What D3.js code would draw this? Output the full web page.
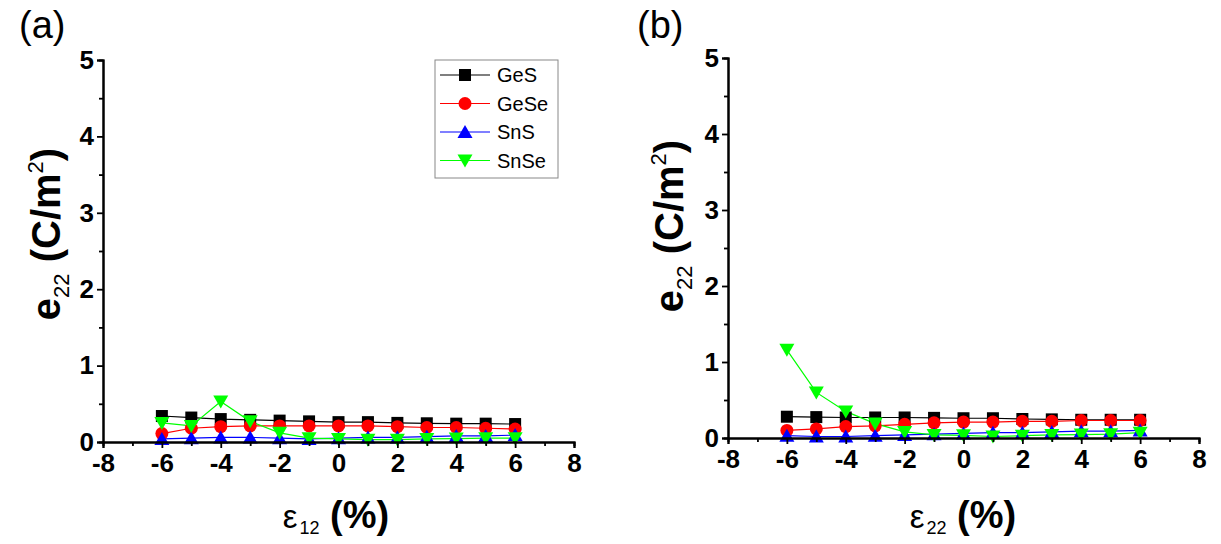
<!DOCTYPE html>
<html>
<head>
<meta charset="utf-8">
<script src="https://cdn.jsdelivr.net/npm/d3@7"></script>
<style>
  body{margin:0;background:#fff;}
  text{font-family:"Liberation Sans",Arial,sans-serif;}
</style>
</head>
<body>
<div id="chart"></div>
<script>
// strain values (%)
const strain = [-6,-5,-4,-3,-2,-1,0,1,2,3,4,5,6];

// panel (a): e22 vs eps12
const gesA  = [0.34,0.32,0.30,0.29,0.28,0.27,0.26,0.26,0.25,0.245,0.24,0.24,0.235];
const geseA = [0.11,0.18,0.20,0.21,0.21,0.21,0.21,0.21,0.20,0.19,0.19,0.18,0.17];
const snsA  = [0.04,0.05,0.06,0.06,0.05,0.04,0.05,0.06,0.06,0.07,0.08,0.08,0.09];
const snseA = [0.25,0.21,0.53,0.27,0.12,0.05,0.04,0.03,0.03,0.04,0.045,0.05,0.05];

// panel (b): e22 vs eps22
const gesB  = [0.28,0.275,0.27,0.27,0.27,0.265,0.26,0.26,0.25,0.245,0.24,0.24,0.24];
const geseB = [0.10,0.12,0.15,0.16,0.18,0.20,0.21,0.21,0.22,0.22,0.23,0.23,0.23];
const snsB  = [0.03,0.02,0.02,0.03,0.04,0.05,0.06,0.07,0.07,0.08,0.09,0.09,0.10];
const snseB = [1.16,0.60,0.35,0.19,0.08,0.04,0.035,0.02,0.03,0.04,0.045,0.05,0.07];

const seriesNames = ['GeS','GeSe','SnS','SnSe'];
const seriesColors = ['#000000','#ff0000','#0000ff','#00ff00'];
const seriesShapes = ['square','circle','triUp','triDown'];

const xTicks = [-8,-6,-4,-2,0,2,4,6,8];
const yTicks = [0,1,2,3,4,5];

const svg = d3.select('#chart').append('svg')
  .attr('width',1221).attr('height',544)
  .style('background','#fff');

function marker(sel, shape, color){
  if(shape==='square'){
    sel.append('rect').attr('x',-6).attr('y',-6).attr('width',12).attr('height',12).attr('fill',color);
  } else if(shape==='circle'){
    sel.append('circle').attr('r',6.5).attr('fill',color);
  } else if(shape==='triUp'){
    sel.append('path').attr('d','M0,-7L7.5,6L-7.5,6Z').attr('fill',color);
  } else {
    sel.append('path').attr('d','M0,7L7.5,-6L-7.5,-6Z').attr('fill',color);
  }
}

function drawPanel(opts){
  const x = d3.scaleLinear().domain([-8,8]).range([opts.x0, opts.x1]);
  const y = d3.scaleLinear().domain([0,5]).range([opts.y0, opts.y1]);
  const g = svg.append('g');

  // lines + markers
  opts.series.forEach((vals,i) => {
    const pts = strain.map((s,k) => [s, vals[k]]);
    g.append('path')
      .attr('d', d3.line().x(d => x(d[0])).y(d => y(d[1]))(pts))
      .attr('fill','none').attr('stroke',seriesColors[i]).attr('stroke-width',1.2);
  });
  opts.series.forEach((vals,i) => {
    const pts = strain.map((s,k) => [s, vals[k]]);
    g.selectAll(null).data(pts).enter().append('g')
      .attr('transform', d => 'translate(' + x(d[0]) + ',' + y(d[1]) + ')')
      .each(function(){ marker(d3.select(this), seriesShapes[i], seriesColors[i]); });
  });

  // axes
  const fmt = d => String(d);
  const xAxis = d3.axisBottom(x).tickValues(xTicks).tickSize(6).tickPadding(4).tickFormat(fmt);
  const xMinor = d3.axisBottom(x).tickValues([-7,-5,-3,-1,1,3,5,7]).tickSize(4).tickFormat('');
  const yAxis = d3.axisLeft(y).tickValues(yTicks).tickSize(6).tickPadding(3).tickFormat(fmt);
  const yMinor = d3.axisLeft(y).tickValues([0.5,1.5,2.5,3.5,4.5]).tickSize(4).tickFormat('');

  const gx = g.append('g').attr('transform','translate(0,' + opts.y0 + ')').call(xAxis);
  g.append('g').attr('transform','translate(0,' + opts.y0 + ')').call(xMinor);
  const gy = g.append('g').attr('transform','translate(' + opts.x0 + ',0)').call(yAxis);
  g.append('g').attr('transform','translate(' + opts.x0 + ',0)').call(yMinor);

  g.selectAll('.domain').attr('stroke','#000').attr('stroke-width',2);
  g.selectAll('.tick line').attr('stroke','#000').attr('stroke-width',1.8);
  g.selectAll('.tick text').attr('fill','#000')
    .style('font-size','26px').style('font-weight','bold')
    .style('font-family','"Liberation Sans",Arial,sans-serif');
  gx.selectAll('.tick text').attr('dy','0.78em');

  // y label
  const yl = svg.append('text')
    .attr('transform','translate(' + opts.yLabelX + ',' + opts.yLabelY + ') rotate(-90)')
    .attr('text-anchor','middle').style('font-size','40px').style('font-weight','bold');
  yl.append('tspan').text('e');
  yl.append('tspan').style('font-size','22px').attr('dy',9).style('font-weight','normal').text('22');
  yl.append('tspan').attr('dy',-9).text(' (C/m');
  yl.append('tspan').style('font-size','22px').attr('dy',-17).style('font-weight','normal').text('2');
  yl.append('tspan').attr('dy',17).text(')');

  // x label
  const xl = svg.append('text')
    .attr('x',opts.xLabelX).attr('y',528)
    .attr('text-anchor','middle').style('font-size','38px');
  xl.append('tspan').style('font-size','33px').text('ε');
  xl.append('tspan').style('font-size','18px').attr('dx',2).attr('dy',6).text(opts.sub);
  xl.append('tspan').attr('dy',-6).style('font-weight','bold').text(' (%)');

  // panel label
  svg.append('text').attr('x',opts.labelX).attr('y',38).style('font-size','38px').text(opts.label);

  return {x, y};
}

drawPanel({x0:103, x1:574, y0:442, y1:60, series:[gesA,geseA,snsA,snseA],
  yLabelX:60, yLabelY:234, xLabelX:336, sub:'12', label:'(a)', labelX:19});
drawPanel({x0:728, x1:1199, y0:438, y1:58, series:[gesB,geseB,snsB,snseB],
  yLabelX:683, yLabelY:226, xLabelX:963, sub:'22', label:'(b)', labelX:637});

// legend (panel a)
const lg = svg.append('g').attr('transform','translate(435,60)');
lg.append('rect').attr('width',123).attr('height',118).attr('fill','#fff')
  .attr('stroke','#888').attr('stroke-width',1);
seriesNames.forEach((name,i) => {
  const cy = 15 + i*28.5;
  lg.append('line').attr('x1',5).attr('x2',55).attr('y1',cy).attr('y2',cy)
    .attr('stroke',seriesColors[i]).attr('stroke-width',1.2);
  const m = lg.append('g').attr('transform','translate(30,' + cy + ')');
  marker(m, seriesShapes[i], seriesColors[i]);
  lg.append('text').attr('x',62).attr('y',cy+7).style('font-size','20px').text(name);
});
</script>
</body>
</html>
